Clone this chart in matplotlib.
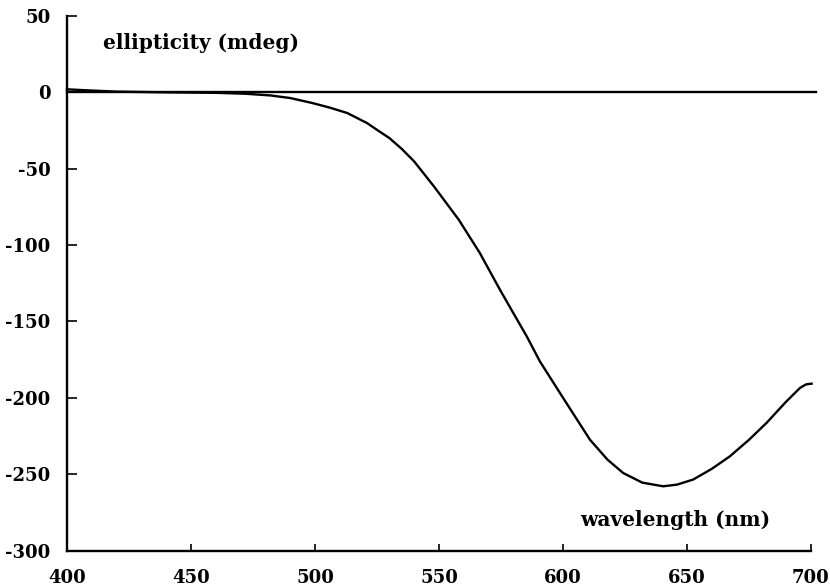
import matplotlib
matplotlib.use("Agg")
import matplotlib.pyplot as plt

# Data
wavelength = [400, 410, 420, 440, 460, 472, 482, 490, 499, 506, 513, 521, 526, 530,
              535, 540, 548, 558, 566.5, 574.6, 580, 585.4, 590.7, 598.8, 605, 610.9, 618, 624.3,
              632, 640.4, 646, 652.5, 660, 667.3, 675, 682.1, 690, 695.6, 698, 700.3]
ellipticity = [2.0, 1.2, 0.5, 0.0, -0.3, -0.9, -2.0, -3.7, -7.0, -10.0, -13.5, -20.1, -25.6, -29.9,
               -37.0, -45.2, -61.6, -83.4, -105.2, -129.2, -144.5, -159.7, -176.1, -196.8, -212.5, -227.4, -240.5, -249.2,
               -255.5, -257.9, -256.8, -253.5, -246.5, -238.3, -227.5, -216.4, -202.5, -193.5, -191.2, -190.7]
baseline_x = [400, 702]
baseline_y = [0, 0]

x_ticks = [400, 450, 500, 550, 600, 650, 700]
y_ticks = [50, 0, -50, -100, -150, -200, -250, -300]
y_label = "ellipticity (mdeg)"
x_label = "wavelength (nm)"

fig = plt.figure(figsize=(8.3, 5.86), dpi=100)
ax = fig.add_axes([0.0807, 0.0604, 0.8963, 0.9123])
tick_font = dict(family="DejaVu Serif", weight="bold", size=13)
label_font = dict(family="DejaVu Serif", weight="bold", size=14.5)

ax.plot(baseline_x, baseline_y, color="black", lw=1.7, clip_on=False)
ax.plot(wavelength, ellipticity, color="black", lw=1.7, clip_on=False)

ax.set_xlim(400, 700)
ax.set_ylim(-300, 50)
ax.set_xticks(x_ticks)
ax.set_yticks(y_ticks)
ax.set_xticklabels([str(v) for v in x_ticks], fontdict=tick_font)
ax.set_yticklabels([str(v) for v in y_ticks], fontdict=tick_font)

for s in ["top", "right"]:
    ax.spines[s].set_visible(False)
for s in ["left", "bottom"]:
    ax.spines[s].set_linewidth(1.7)

ax.tick_params(axis="y", direction="in", length=7, width=1.2, pad=12)
ax.tick_params(axis="x", direction="in", length=5, width=1.2, pad=13)

ax.text(0.048, 0.949, y_label, transform=ax.transAxes, ha="left", va="center", **label_font)
ax.text(0.945, 0.057, x_label, transform=ax.transAxes, ha="right", va="center", **label_font)

fig.savefig("out.png", dpi=100)
